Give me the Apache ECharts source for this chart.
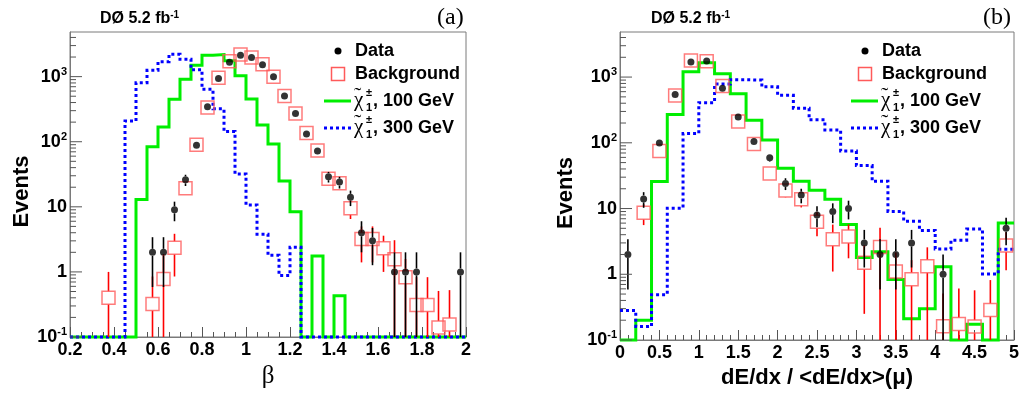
<!DOCTYPE html>
<html><head><meta charset="utf-8">
<script src="https://cdn.jsdelivr.net/npm/echarts@6/dist/echarts.min.js"></script>
<style>html,body{margin:0;padding:0;background:#fff}#c{width:1024px;height:394px}</style>
</head><body><div id="c"></div>
<script>
// ---------- Panel (a): beta, bins of 0.05 from 0.2 to 2.0 ----------
const betaRange = [0.2, 2.0];
const betaBinWidth = 0.05;
const betaData = [0,0,0,0,0,0,0,2,2,9,26,88,346,935,1660,2140,1970,1520,1000,505,272,132,72,29,24,14,4,3,0,1,1,1,0,0,0,1];
const betaBackground = [0,0,0,0.40,0,0,0,0.32,0.78,2.35,19.3,90,335,960,1720,2180,1970,1550,995,502,272,136,73,27,23,9.5,3.2,3.2,2.3,1.57,0.83,0.31,0.31,0.14,0.155,0];
const betaBackgroundErr = [0,0,0,0.6,0,0,0,0.53,1.1,1.5,3,6,12,20,30,30,30,25,20,15,10,8,6,4,4,3,1.8,1.8,1.3,1.5,0.75,0.52,0.52,0.37,0.37,0];
const betaChargino100 = [0,0,0,0,0,0,13,84,168,450,908,1500,2140,2190,1750,1030,455,180,92,25,8.4,0,1.75,0,0.43,0,0,0,0,0,0,0,0,0,0,0];
const betaChargino300 = [0,0,0,0,0,208,805,1250,1700,2200,1850,1280,640,320,143,32,10.7,3.8,1.8,0.88,2.4,0,0,0,0,0,0,0,0,0,0,0,0,0,0,0];

// ---------- Panel (b): dE/dx, bins of 0.2 from 0 to 5 ----------
const dedxRange = [0, 5];
const dedxBinWidth = 0.2;
const dedxData = [2,14,99,541,1690,1750,675,248,105,59,24,16,8,9,10,3,2,2,3,0,1,0,0,0,5];
const dedxBackground = [0,8.6,75,523,1790,1740,731,211,96,34,18.8,13.9,6.3,3.4,3.75,1.5,2.6,1.1,0.84,1.32,0.162,0.175,0.16,0.286,2.75];
const dedxBackgroundErr = [0,3,8,25,50,50,30,15,10,6,4,3.5,2.5,2.3,2,1.25,2.5,1.05,0.8,1.25,0.35,0.43,0.41,0.53,1.6];
const dedxChargino100 = [0,0.2,25.7,270,1200,1650,1120,556,221,110,41,26,19,13.9,5.7,1.8,2.2,0.83,0.21,0.30,1.3,0,0.174,0,6.0];
const dedxChargino300 = [0.28,0.16,0.49,10.1,138,408,782,910,900,710,530,336,224,157,75,45,26,9,6.4,4.65,2.42,3.3,4.9,1.01,2.4];

// ---------- axes / labels ----------
const yRange = [0.1, 4850];
const yDecades = [0.1, 1, 10, 100, 1000];
const yDecadeLabels = ['{b|10}{s|-1}', '{b|1}', '{b|10}', '{b|10}{s|2}', '{b|10}{s|3}'];
const legendNames = ['Data', 'Background', ', 100 GeV', ', 300 GeV'];
const panelTags = ['(a)', '(b)'];
const lumiText = '{b|DØ 5.2 fb}{s|-1}';
const xTitles = ['β', 'dE/dx / <dE/dx>(μ)'];

const FLOOR = yRange[0];
const SANS = 'Liberation Sans';
const SERIF = 'Liberation Serif';
const GREEN = '#00ee00', BLUE = '#0000ff', RED = '#ff0000', BOXRED = '#ff5a5a';
const FRAME = '#7a7a7a';

function r4(v){ return Math.round(v*1e6)/1e6; }
function stepPoints(lo, w, vals){
  const pts = [];
  vals.forEach((v,i)=>{ const y = Math.max(v, FLOOR); pts.push([r4(lo+i*w), y], [r4(lo+(i+1)*w), y]); });
  return pts;
}
function pointList(lo, w, vals, errs){
  const out = [];
  vals.forEach((v,i)=>{ if (v > 0) out.push([r4(lo+(i+0.5)*w), v, errs ? errs[i] : Math.sqrt(v)]); });
  return out;
}
function errSeries(ai, pts, half, color, z){
  return { type:'custom', xAxisIndex:ai, yAxisIndex:ai, data:pts, encode:{x:0,y:1}, z, clip:false, silent:true,
    renderItem(params, api){
      const x = api.value(0), v = api.value(1), e = api.value(2);
      const c = api.coord([x, v]);
      const top = api.coord([x, v + e]);
      const lo = v - e;
      const bot = api.coord([x, lo > FLOOR ? lo : FLOOR]);
      const ch = [];
      if (top[1] < c[1]-half) ch.push({type:'line', shape:{x1:c[0],y1:top[1],x2:c[0],y2:c[1]-half}, style:{stroke:color,lineWidth:1.6}});
      if (bot[1] > c[1]+half) ch.push({type:'line', shape:{x1:c[0],y1:c[1]+half,x2:c[0],y2:bot[1]}, style:{stroke:color,lineWidth:1.6}});
      return {type:'group', children:ch};
    }};
}
function yTickSeries(ai, xMin){
  const ticks = [];
  for (let k=-1; k<=3; k++){
    for (let m=1; m<=9; m++){
      const v = m*Math.pow(10,k);
      if (v >= yRange[0]*0.999 && v <= yRange[1]) ticks.push([xMin, v, m===1 ? 12 : 6]);
    }
  }
  return { type:'custom', xAxisIndex:ai, yAxisIndex:ai, data:ticks, encode:{x:0,y:1}, z:10, clip:false, silent:true,
    renderItem(params, api){
      const p = api.coord([api.value(0), api.value(1)]);
      return {type:'line', shape:{x1:p[0], y1:p[1], x2:p[0]+api.value(2), y2:p[1]}, style:{stroke:'#555', lineWidth:1}};
    }};
}
function panelSeries(ai, lo, w, data, bg, bgErr, s100, s300){
  return [
    {type:'line', xAxisIndex:ai, yAxisIndex:ai, data:stepPoints(lo,w,s100), symbol:'none', clip:false, z:2,
      lineStyle:{color:GREEN, width:3, cap:'butt', join:'miter'}},
    {type:'line', xAxisIndex:ai, yAxisIndex:ai, data:stepPoints(lo,w,s300), symbol:'none', clip:false, z:3,
      lineStyle:{color:BLUE, width:3, type:[3,3], cap:'butt', join:'miter'}},
    errSeries(ai, pointList(lo,w,bg,bgErr), 6.5, RED, 4),
    {type:'scatter', xAxisIndex:ai, yAxisIndex:ai, data:pointList(lo,w,bg,bgErr).map(p=>[p[0],p[1]]), symbol:'rect', symbolSize:13, z:5,
      itemStyle:{color:'rgba(0,0,0,0)', borderColor:BOXRED, borderWidth:1.5}},
    errSeries(ai, pointList(lo,w,data,null), 3.5, '#000', 6),
    {type:'scatter', xAxisIndex:ai, yAxisIndex:ai, data:pointList(lo,w,data,null).map(p=>[p[0],p[1]]), symbol:'circle', symbolSize:7, z:7,
      itemStyle:{color:'#000'}},
    yTickSeries(ai, ai===0 ? betaRange[0] : dedxRange[0])
  ];
}
function yFormatter(v){
  const l = Math.log10(v), e = Math.round(l);
  if (Math.abs(l-e) > 1e-6) return '';
  const i = yDecades.findIndex(d => Math.abs(Math.log10(d)-e) < 1e-6);
  return i >= 0 ? yDecadeLabels[i] : '';
}
const yRich = { b:{fontFamily:SANS, fontWeight:'bold', fontSize:18, color:'#000'},
                s:{fontFamily:SANS, fontWeight:'bold', fontSize:11, color:'#000', padding:[0,0,10,0]} };
function yAxis(gi, gap){
  return { type:'log', gridIndex:gi, min:yRange[0], max:yRange[1], logBase:10,
    name:'Events', nameLocation:'middle', nameGap:gap, nameRotate:90,
    nameTextStyle:{fontFamily:SANS, fontWeight:'bold', fontSize:22, color:'#000', padding:[0,14,0,0]},
    axisLine:{show:true, lineStyle:{color:FRAME, width:1}}, axisTick:{show:false}, splitLine:{show:false},
    axisLabel:{formatter:yFormatter, rich:yRich, margin:3, showMaxLabel:false} };
}
function xAxis(gi, range, interval, minorSplit, title, titleFont, gap){
  return { type:'value', gridIndex:gi, min:range[0], max:range[1], interval,
    name:title, nameLocation:'middle', nameGap:gap, nameTextStyle:titleFont,
    axisLine:{show:true, lineStyle:{color:FRAME, width:1}},
    axisTick:{show:true, inside:true, length:10, lineStyle:{color:'#555'}},
    minorTick:{show:true, splitNumber:minorSplit, length:5, lineStyle:{color:'#555'}},
    splitLine:{show:false}, minorSplitLine:{show:false},
    axisLabel:{fontFamily:SANS, fontWeight:'bold', fontSize:18, color:'#000', margin:4} };
}
function legendGraphics(ox){
  const t = (txt, x, y) => ({type:'text', x:x+ox, y, style:{text:txt, fill:'#000', font:'bold 18px "Liberation Sans"', verticalAlign:'middle'}});
  const chi = (y) => [
    {type:'text', x:354+ox, y:y, style:{text:'χ', fill:'#000', font:'21px "Liberation Serif"', verticalAlign:'middle'}},
    {type:'text', x:354+ox, y:y-4, style:{text:'˜', fill:'#000', font:'22px "Liberation Serif"', verticalAlign:'middle'}},
    {type:'text', x:366+ox, y:y-7, style:{text:'±', fill:'#000', font:'bold 11px "Liberation Sans"', verticalAlign:'middle'}},
    {type:'text', x:366+ox, y:y+8, style:{text:'1', fill:'#000', font:'bold 11px "Liberation Sans"', verticalAlign:'middle'}}
  ];
  return [
    {type:'circle', shape:{cx:338+ox, cy:51, r:3.5}, style:{fill:'#000'}},
    t(legendNames[0], 355, 51),
    {type:'rect', shape:{x:331.5+ox, y:67.5, width:13, height:13}, style:{fill:'none', stroke:BOXRED, lineWidth:1.5}},
    t(legendNames[1], 355, 74),
    {type:'line', shape:{x1:324+ox, y1:101, x2:351+ox, y2:101}, style:{stroke:GREEN, lineWidth:3}},
    ...chi(100),
    t(legendNames[2], 373, 101),
    {type:'line', shape:{x1:324+ox, y1:128, x2:351+ox, y2:128}, style:{stroke:BLUE, lineWidth:3, lineDash:[3,3]}},
    ...chi(127),
    t(legendNames[3], 373, 128)
  ];
}
function titleGraphics(x, tagX, tag){
  return [
    {type:'text', x:x, y:19, style:{text:lumiText, verticalAlign:'middle',
      rich:{b:{fontFamily:SANS, fontWeight:'bold', fontSize:16, fill:'#000'}, s:{fontFamily:SANS, fontWeight:'bold', fontSize:10, fill:'#000', padding:[0,0,8,0]}}}},
    {type:'text', x:tagX, y:18, style:{text:tag, fill:'#000', font:'24px "Liberation Serif"', verticalAlign:'middle'}}
  ];
}

const chart = echarts.init(document.getElementById('c'), null, {renderer:'canvas'});
chart.setOption({
  animation:false,
  backgroundColor:'#fff',
  grid:[
    {left:70, top:32, width:396, height:313, show:true, borderColor:FRAME, borderWidth:1, backgroundColor:'#fff'},
    {left:620, top:32, width:394, height:313, show:true, borderColor:FRAME, borderWidth:1, backgroundColor:'#fff'}
  ],
  xAxis:[
    xAxis(0, betaRange, 0.2, 4, xTitles[0], {fontFamily:SERIF, fontSize:25, color:'#000'}, 27),
    xAxis(1, dedxRange, 0.5, 5, xTitles[1], {fontFamily:SANS, fontWeight:'bold', fontSize:22, color:'#000'}, 27)
  ],
  yAxis:[ yAxis(0, 37), yAxis(1, 43) ],
  series:[
    ...panelSeries(0, betaRange[0], betaBinWidth, betaData, betaBackground, betaBackgroundErr, betaChargino100, betaChargino300),
    ...panelSeries(1, dedxRange[0], dedxBinWidth, dedxData, dedxBackground, dedxBackgroundErr, dedxChargino100, dedxChargino300)
  ],
  graphic:[
    ...legendGraphics(0), ...legendGraphics(527),
    ...titleGraphics(100, 437, panelTags[0]), ...titleGraphics(651, 983, panelTags[1])
  ]
});
</script></body></html>
